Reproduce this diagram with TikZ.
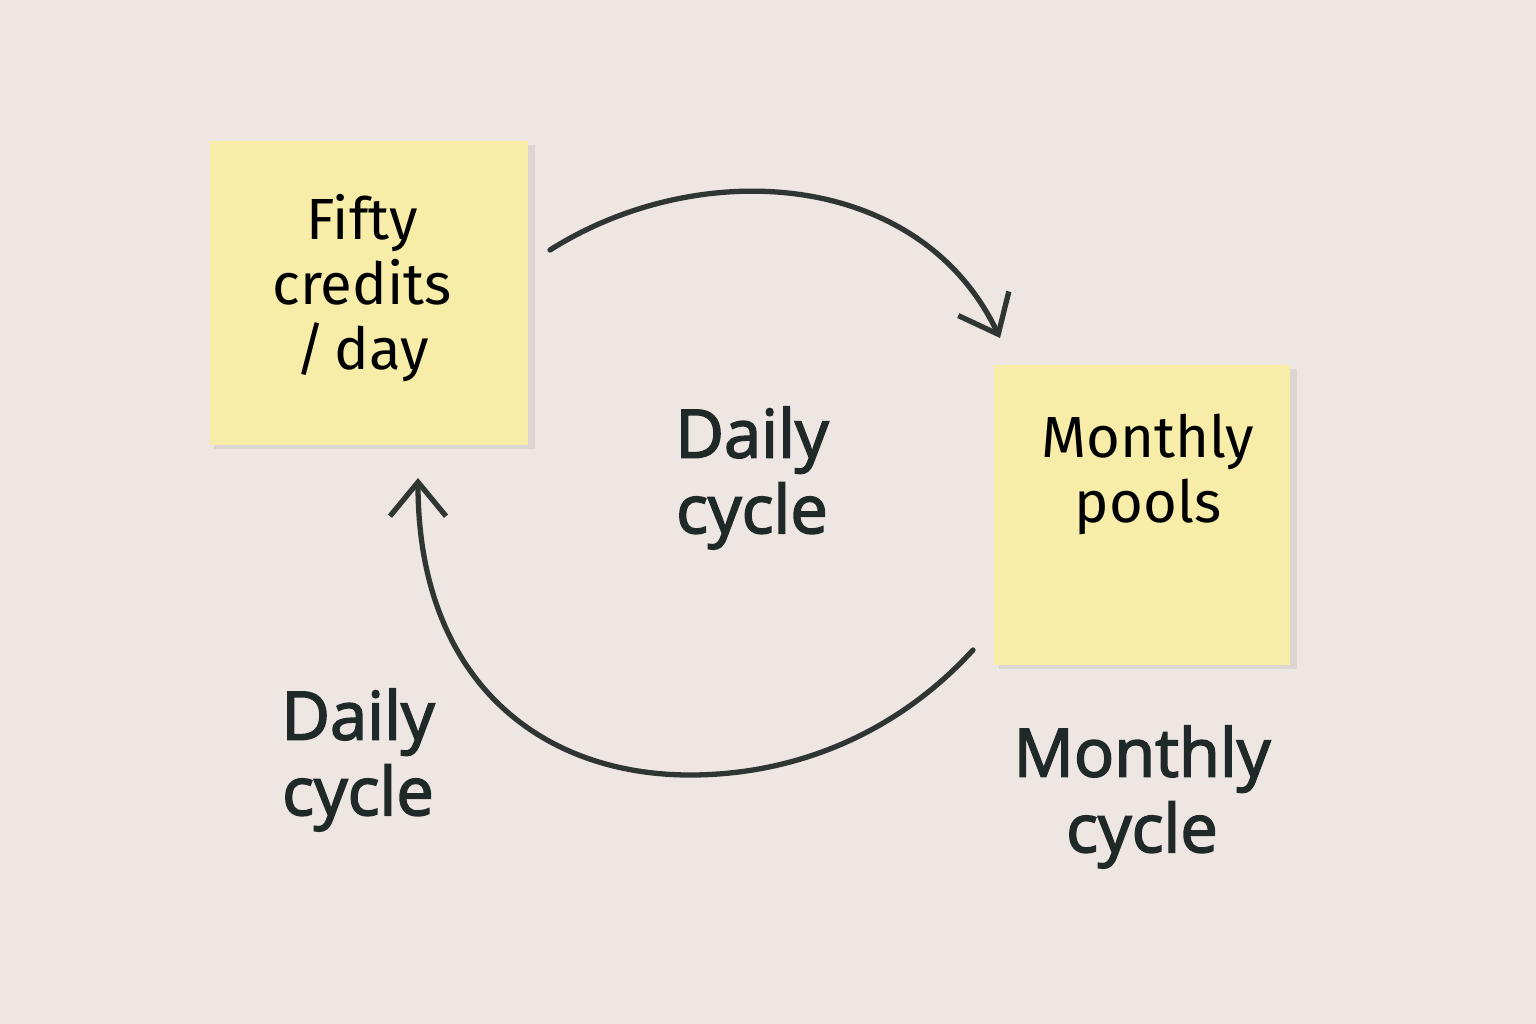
\documentclass[tikz,border=0pt]{standalone}
\usepackage{fontspec}
\setmainfont{Open Sans}
\newfontfamily\handfont{Fira Sans}
\newfontfamily\labelfont{Open Sans}[FakeBold=2.5]
\usetikzlibrary{arrows.meta}
\definecolor{wall}{HTML}{EDE6E3}
\definecolor{paper}{HTML}{F8EDA8}
\definecolor{ink}{HTML}{1F2A28}
\definecolor{marker}{HTML}{2E3532}
\tikzset{
    note/.style = {fill = paper, inner sep = 0pt},
    notetext/.style = {font = \handfont\fontsize{16.5}{18.5}\selectfont, text = black, align = center},
    cyclelabel/.style = {font = \labelfont\fontsize{19}{21.5}\selectfont, text = ink, align = center},
    loop/.style = {draw = marker, line width = 1.5pt, line cap = round,
        -{Straight Barb[length = 3.4mm, width = 5.6mm, line width = 1.5pt]}}
}
\begin{document}
\begin{tikzpicture}[x = 0.01cm, y = -0.01cm]
        \fill[wall] (0,0) rectangle (1536,1024);
        \useasboundingbox (0,0) rectangle (1536,1024);
        % sticky notes
        \fill[black, opacity = 0.07] (214,145) rectangle (535,449);
        \node[note, minimum width = 3.18cm, minimum height = 3.04cm] (fifty) at (369,293) {};
        \fill[black, opacity = 0.07] (999,369) rectangle (1297,669);
        \node[note, minimum width = 2.95cm, minimum height = 3.0cm] (monthly) at (1142,515) {};
        \node[notetext] (fiftytext) at (362,288) {Fifty\\credits\\/\,day};
        \node[notetext] (monthlytext) at (1148,474) {Monthly\\pools};
        % labels
        \node[cyclelabel] (daily) at (752,478) {Daily\\cycle};
        \node[cyclelabel] (dailyleft) at (358,760) {Daily\\cycle};
        \node[cyclelabel] (monthlyleft) at (1142,797) {Monthly\\cycle};
        % arcs
        \coordinate (topstart) at (550,250);
        \coordinate (topend) at (1000,338);
        \coordinate (botstart) at (973,650);
        \coordinate (botmid) at (690,775);
        \coordinate (botend) at (418,478);
        \draw[loop] (topstart) .. controls (700,155) and (920,170) .. (topend);
        \draw[loop] (botstart) .. controls (900,730) and (800,775) .. (botmid)
            .. controls (540,775) and (418,680) .. (botend);
    \end{tikzpicture}
\end{document}
